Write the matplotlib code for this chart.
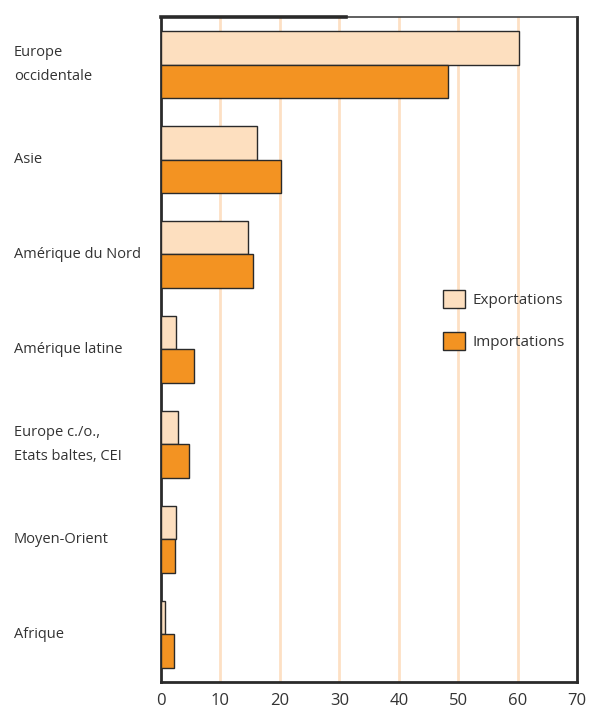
import matplotlib.pyplot as plt
import numpy as np
from matplotlib.lines import Line2D
from matplotlib.transforms import blended_transform_factory

plt.rcParams['font.family'] = ['Open Sans', 'DejaVu Sans']

# données
regions = ['Europe\noccidentale', 'Asie', 'Amérique du Nord', 'Amérique latine',
           'Europe c./o.,\nEtats baltes, CEI', 'Moyen-Orient', 'Afrique']
exportations = [60.3, 16.2, 14.6, 2.5, 2.8, 2.5, 0.7]
importations = [48.3, 20.2, 15.5, 5.6, 4.7, 2.3, 2.1]
xticks = [0, 10, 20, 30, 40, 50, 60, 70]

c_exp = '#fddfbf'
c_imp = '#f39322'
c_grid = '#fde0c4'
c_edge = '#2a2a2a'

fig = plt.figure(figsize=(5.9, 7.11), dpi=100)
ax = fig.add_axes([0.273, 0.041, 0.705, 0.935])

y = np.arange(len(regions))
h = 0.35
ax.barh(y - h / 2, exportations, height=h, color=c_exp, edgecolor=c_edge,
        linewidth=1.0, label='Exportations', zorder=3)
ax.barh(y + h / 2, importations, height=h, color=c_imp, edgecolor=c_edge,
        linewidth=1.0, label='Importations', zorder=3)

ax.set_xlim(0, 70)
ax.set_ylim(len(regions) - 0.5, -0.5)
ax.set_xticks(xticks)
ax.set_xticklabels([str(t) for t in xticks], fontsize=12, color='#333333')
ax.tick_params(axis='x', length=0, pad=8)
ax.set_yticks([])

# grille verticale
for t in xticks[1:-1]:
    ax.axvline(t, color=c_grid, linewidth=2, zorder=1)

for s in ax.spines.values():
    s.set_color(c_edge)
    s.set_linewidth(2)
ax.spines['top'].set_linewidth(1.2)
ax.spines['top'].set_color('#444444')
# bout plus épais du cadre en haut
ax.add_line(Line2D([0, 0.445], [1, 1], transform=ax.transAxes, color=c_edge,
                   linewidth=2.6, clip_on=False, zorder=5))

# étiquettes des régions, alignées à gauche (x en coordonnées figure)
trans = blended_transform_factory(fig.transFigure, ax.transData)
for yi, lab in zip(y, regions):
    ax.text(14 / 590, yi, lab, transform=trans, ha='left', va='center',
            fontsize=10.5, color='#333333', linespacing=1.75)

leg = ax.legend(loc='upper left', bbox_to_anchor=(0.678, 0.589), frameon=False,
                fontsize=11, handlelength=1.45, handleheight=1.45,
                labelspacing=1.55, handletextpad=0.5, borderpad=0,
                borderaxespad=0)
for txt in leg.get_texts():
    txt.set_color('#333333')

fig.savefig('out.png', dpi=100)
